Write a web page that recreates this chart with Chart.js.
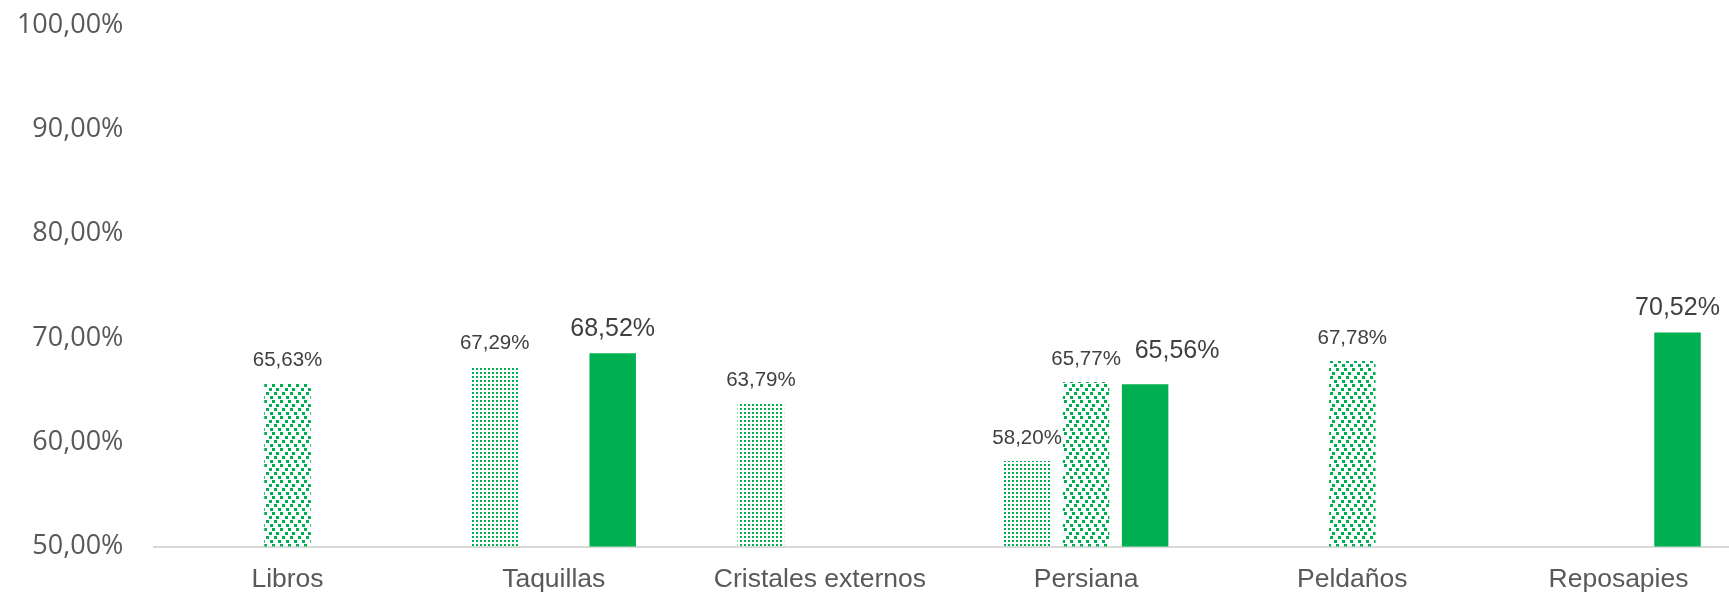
<!DOCTYPE html>
<html>
<head>
<meta charset="utf-8">
<script src="https://cdn.jsdelivr.net/npm/chart.js@4.4.1/dist/chart.umd.min.js"></script>
<style>
  html, body { margin: 0; padding: 0; background: #fff; overflow: hidden; }
  #wrap { width: 1760px; height: 593px; }
</style>
</head>
<body>
<div id="wrap"><canvas id="chart" width="1760" height="593"></canvas></div>
<script>
const categories = ['Libros', 'Taquillas', 'Cristales externos', 'Persiana', 'Peldaños', 'Reposapies'];
const dottedValues = [null, 67.29, 63.79, 58.20, null, null];
const confettiValues = [65.63, null, null, 65.77, 67.78, null];
const solidValues = [null, 68.52, null, 65.56, null, 70.52];
const yTicks = [50, 60, 70, 80, 90, 100];

const green = '#00b050';

function makeDots() {
  const c = document.createElement('canvas');
  c.width = 4; c.height = 4;
  const g = c.getContext('2d');
  g.fillStyle = green;
  g.fillRect(0, 0, 2, 2);
  return g.createPattern(c, 'repeat');
}

function makeConfetti() {
  // staggered 3px squares, tile 16x16
  const spots = [[0, 0], [8, 0], [4, 4], [13, 4], [2, 8], [10, 8], [6, 12], [14, 12]];
  const c = document.createElement('canvas');
  c.width = 16; c.height = 16;
  const g = c.getContext('2d');
  g.fillStyle = green;
  spots.forEach(([x, y]) => {
    g.fillRect(x, y, 3, 3);
    if (x + 3 > 16) g.fillRect(x - 16, y, 3, 3);
  });
  return g.createPattern(c, 'repeat');
}

const fmt = v => v.toFixed(2).replace('.', ',') + '%';

// label nudges (dataset index, point index) -> [dx, dy]
const labelNudge = { '2-3': [32, -9] };

const valueLabels = {
  id: 'valueLabels',
  afterDatasetsDraw(chart) {
    const ctx = chart.ctx;
    ctx.save();
    ctx.textAlign = 'center';
    ctx.textBaseline = 'alphabetic';
    ctx.fillStyle = '#404040';
    chart.data.datasets.forEach((ds, di) => {
      const meta = chart.getDatasetMeta(di);
      ctx.font = ds.labelSize + 'px "Liberation Sans", Arial, sans-serif';
      meta.data.forEach((bar, i) => {
        const v = ds.data[i];
        if (v == null) return;
        const n = labelNudge[di + '-' + i] || [0, 0];
        ctx.fillText(fmt(v), bar.x + n[0], bar.y - 17 + n[1]);
      });
    });
    ctx.restore();
  }
};

new Chart(document.getElementById('chart'), {
  type: 'bar',
  data: {
    labels: categories,
    datasets: [
      { label: 'A', data: dottedValues, backgroundColor: makeDots(), labelSize: 20.5 },
      { label: 'B', data: confettiValues, backgroundColor: makeConfetti(), labelSize: 20.5 },
      { label: 'C', data: solidValues, backgroundColor: green, labelSize: 25 }
    ]
  },
  options: {
    responsive: false,
    animation: false,
    categoryPercentage: 0.665,
    barPercentage: 0.788,
    layout: { padding: { top: 25, right: 8.4, left: 0, bottom: 0 } },
    plugins: { legend: { display: false }, tooltip: { enabled: false } },
    scales: {
      x: {
        afterFit(scale) { scale.height = 46.5; },
        grid: { display: false, drawTicks: false },
        border: { display: true, color: '#d9d9d9', width: 2 },
        ticks: {
          autoSkip: false, maxRotation: 0, padding: 17.5,
          color: '#595959',
          font: { family: '"Liberation Sans", Arial, sans-serif', size: 26.5 }
        }
      },
      y: {
        min: 50, max: 100,
        afterBuildTicks(scale) { scale.ticks = yTicks.map(v => ({ value: v })); },
        afterFit(scale) {
          scale.width = 154.4;
          scale.paddingTop = 0;
          scale.paddingBottom = 0;
        },
        grid: { display: false, drawTicks: false },
        border: { display: false },
        ticks: {
          padding: 31,
          color: '#595959',
          font: { family: '"Open Sans", sans-serif', size: 27 },
          callback: v => fmt(v)
        }
      }
    }
  },
  plugins: [valueLabels]
});
</script>
</body>
</html>
